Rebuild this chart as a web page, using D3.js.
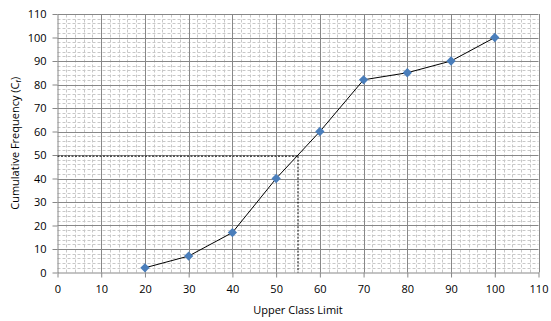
<!DOCTYPE html>
<html><head><meta charset="utf-8">
<script src="https://cdn.jsdelivr.net/npm/d3@7"></script>
<style>body{margin:0;background:#fff}svg{display:block}text{font-family:"Open Sans","Liberation Sans",sans-serif;}</style>
</head><body><svg id="c" width="551" height="321"></svg>
<script>
const xVals = [20,30,40,50,60,70,80,90,100];
const yVals = [2,7,17,40,60,82,85,90,100];
const xTicks = [0,10,20,30,40,50,60,70,80,90,100,110];
const yTicks = [0,10,20,30,40,50,60,70,80,90,100,110];
const medianX = 55, medianY = 49.5;
const FONT = '"Open Sans","Liberation Sans",sans-serif';

const svg = d3.select("#c");
const x = d3.scaleLinear().domain([0,110]).range([57.5,538.5]);
const y = d3.scaleLinear().domain([0,110]).range([272.5,14]);

// minor grid
const minor = d3.range(0,111,2).filter(v=>v%10!==0);
const g = svg.append("g");
g.selectAll(".mx").data(minor).enter().append("line")
  .attr("x1",d=>Math.round(x(d))+0.5).attr("x2",d=>Math.round(x(d))+0.5)
  .attr("y1",y(0)).attr("y2",y(110))
  .attr("stroke","#c8c8c8").attr("stroke-dasharray","3,2").attr("stroke-width",1);
g.selectAll(".my").data(minor).enter().append("line")
  .attr("y1",d=>Math.round(y(d))+0.5).attr("y2",d=>Math.round(y(d))+0.5)
  .attr("x1",x(0)).attr("x2",x(110))
  .attr("stroke","#c8c8c8").attr("stroke-dasharray","3,2").attr("stroke-width",1);
// major grid
g.selectAll(".Mx").data(xTicks.slice(1)).enter().append("line")
  .attr("x1",d=>Math.round(x(d))+0.5).attr("x2",d=>Math.round(x(d))+0.5)
  .attr("y1",y(0)).attr("y2",y(110)).attr("stroke","#888").attr("stroke-width",1);
g.selectAll(".My").data(yTicks.slice(1)).enter().append("line")
  .attr("y1",d=>Math.round(y(d))+0.5).attr("y2",d=>Math.round(y(d))+0.5)
  .attr("x1",x(0)).attr("x2",x(110)).attr("stroke","#888").attr("stroke-width",1);

// axes
const xa = svg.append("g").attr("transform",`translate(0,${y(0)})`)
  .call(d3.axisBottom(x).tickValues(xTicks).tickSize(5).tickPadding(8).tickSizeOuter(0));
const ya = svg.append("g").attr("transform",`translate(${x(0)},0)`)
  .call(d3.axisLeft(y).tickValues(yTicks).tickSize(5).tickPadding(6).tickSizeOuter(0));
[xa,ya].forEach(a=>{
  a.select(".domain").attr("stroke","#888");
  a.selectAll(".tick line").attr("stroke","#888");
  a.selectAll("text").attr("font-size","11px").attr("fill","#000").style("font-family",FONT);
});

// dashed median lines
svg.append("line").attr("x1",x(0)).attr("x2",x(medianX)).attr("y1",y(medianY)).attr("y2",y(medianY))
  .attr("stroke","#000").attr("stroke-dasharray","2,1.5").attr("stroke-width",1);
svg.append("line").attr("x1",x(medianX)).attr("x2",x(medianX)).attr("y1",y(medianY)).attr("y2",y(0))
  .attr("stroke","#000").attr("stroke-dasharray","2,1.5").attr("stroke-width",1);

// data line
const pts = xVals.map((v,i)=>[v,yVals[i]]);
svg.append("path").datum(pts)
  .attr("d",d3.line().x(d=>x(d[0])).y(d=>y(d[1])))
  .attr("fill","none").attr("stroke","#000").attr("stroke-width",1);
svg.selectAll(".pt").data(pts).enter().append("path")
  .attr("d",d3.symbol().type(d3.symbolDiamond2).size(55))
  .attr("transform",d=>`translate(${x(d[0])},${y(d[1])})`)
  .attr("fill","#4a7ebb");

// titles
svg.append("text").attr("x",(x(0)+x(110))/2).attr("y",314).attr("text-anchor","middle")
  .attr("font-size","11px").text("Upper Class Limit");
const yt = svg.append("text").attr("transform",`translate(19,${(y(0)+y(110))/2}) rotate(-90)`)
  .attr("text-anchor","middle").attr("font-size","11px");
yt.append("tspan").text("Cumulative Frequency (C");
yt.append("tspan").attr("font-size","7.5px").attr("dy","2").text("f");
yt.append("tspan").attr("dy","-2").text(")");
</script></body></html>
